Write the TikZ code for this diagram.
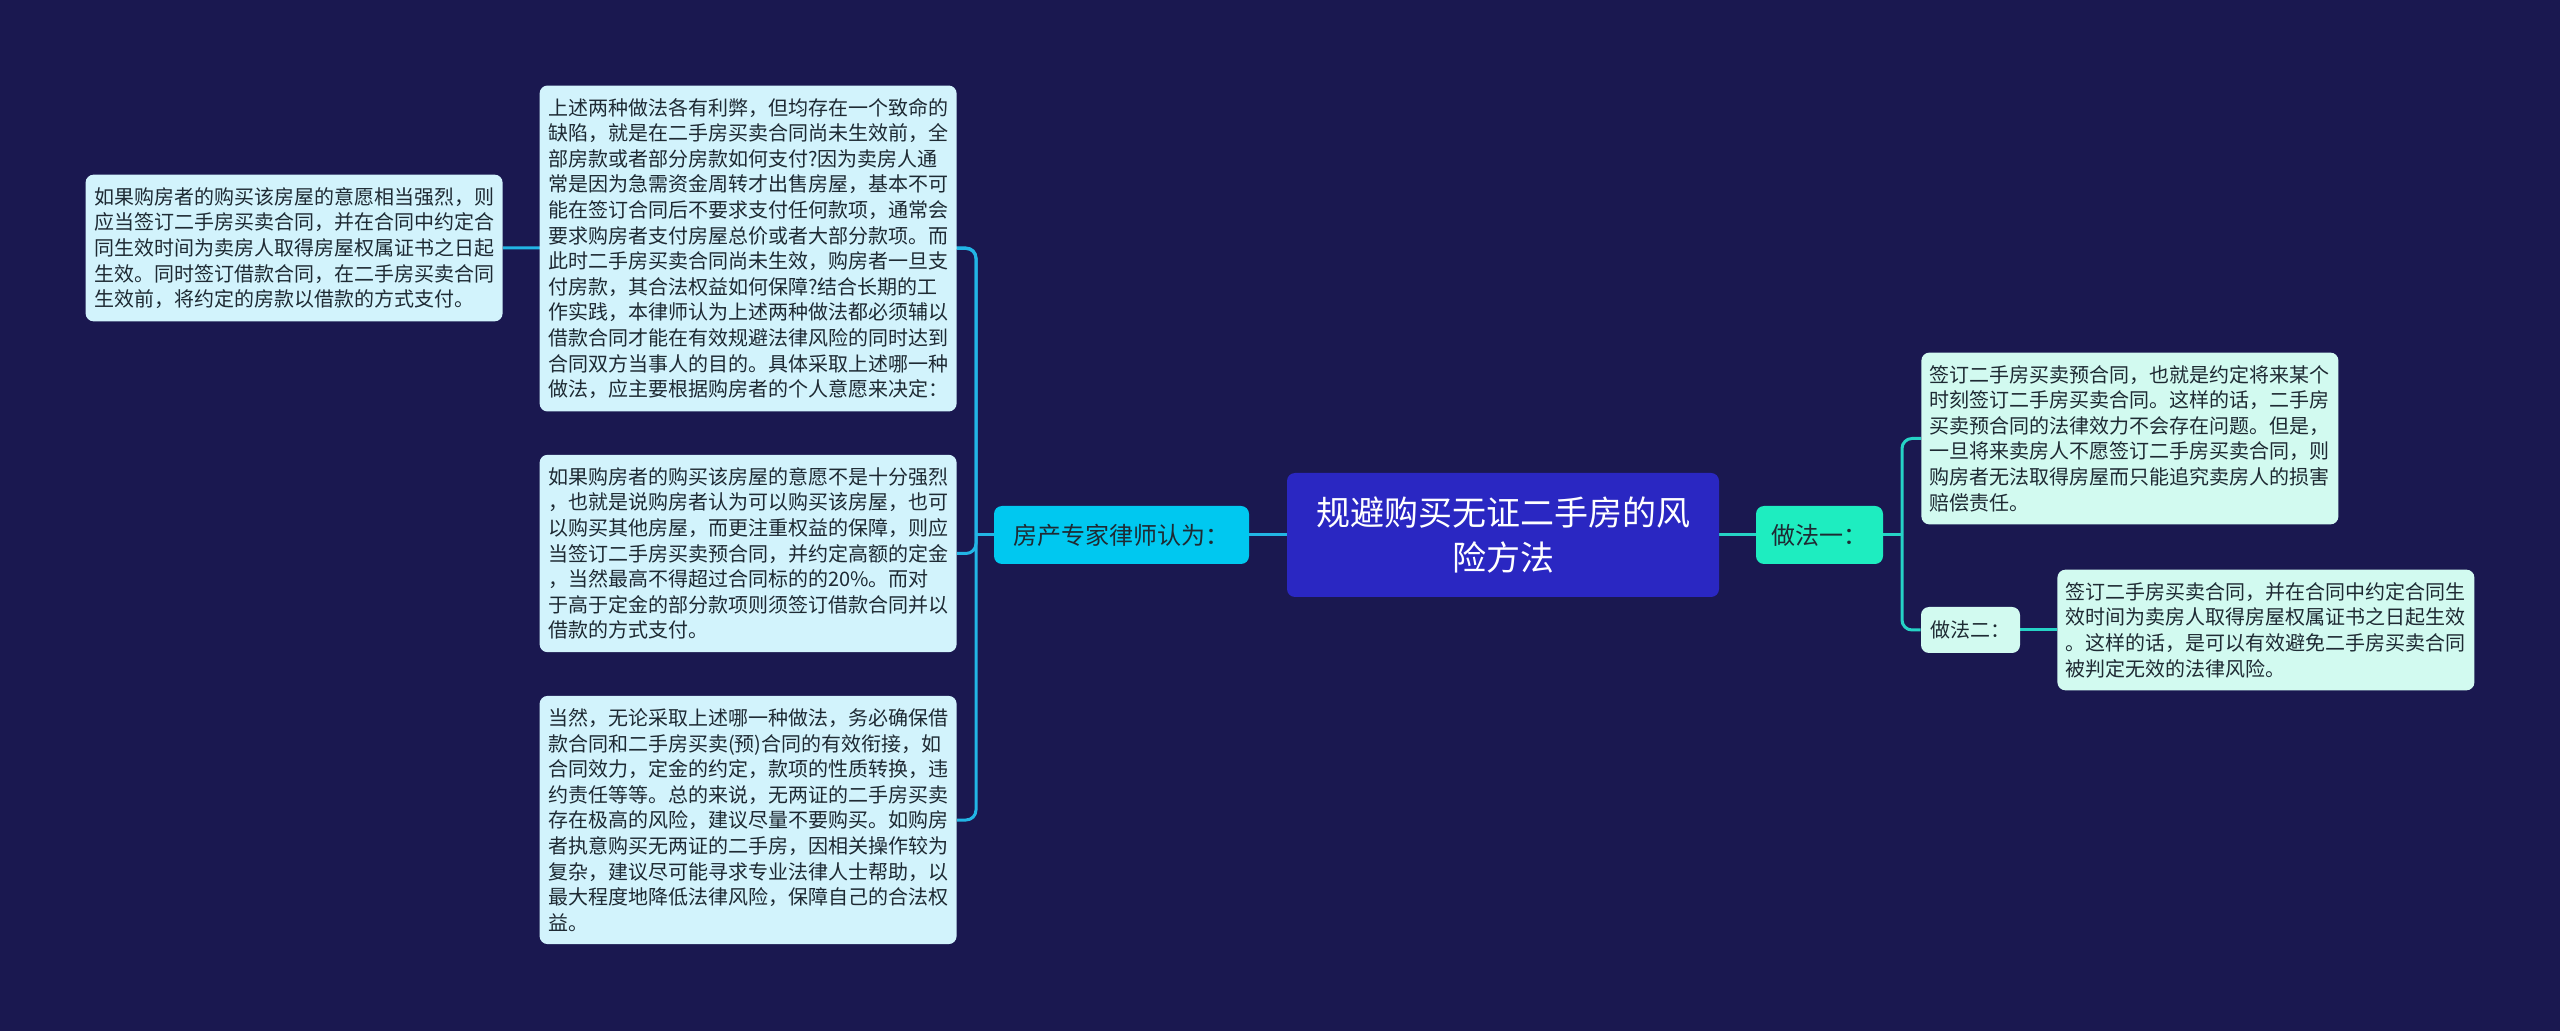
\documentclass[tikz,border=0pt]{standalone}
\usepackage{fontspec}
\setmainfont{Noto Sans CJK SC}
\usepackage{xcolor}
\usetikzlibrary{backgrounds}

\definecolor{bgnavy}{HTML}{1A1850}
\definecolor{rootfill}{HTML}{2A27C2}
\definecolor{expertfill}{HTML}{00C8F0}
\definecolor{leftfill}{HTML}{D2F3FC}
\definecolor{leftlink}{HTML}{22B5E5}
\definecolor{wayfill}{HTML}{1EEDC0}
\definecolor{rightfill}{HTML}{D2FAF0}
\definecolor{rightlink}{HTML}{26D3C6}
\definecolor{boxtext}{HTML}{1E2A33}

\tikzset{
  leftbox/.style={fill=leftfill, rounded corners=4pt, text=boxtext, align=left,
    text width=200pt, inner xsep=4.25pt, inner ysep=6.3pt,
    font=\fontsize{10pt}{12.8pt}\selectfont},
  rightbox/.style={leftbox, fill=rightfill},
  rootbox/.style={fill=rootfill, rounded corners=4pt, text=white, align=center,
    minimum width=216pt, minimum height=62pt, font=\fontsize{17pt}{22.5pt}\selectfont},
  expertbox/.style={fill=expertfill, rounded corners=4pt, text=boxtext,
    minimum width=127.5pt, minimum height=29pt, font=\fontsize{12pt}{14pt}\selectfont},
  waybox/.style={expertbox, fill=wayfill, minimum width=63.5pt},
  smallway/.style={fill=rightfill, rounded corners=4pt, text=boxtext,
    minimum width=49.5pt, minimum height=23pt, font=\fontsize{10pt}{12.8pt}\selectfont},
  leftline/.style={draw=leftlink, line width=1.5pt, rounded corners=5pt},
  rightline/.style={leftline, draw=rightlink}
}

\begin{document}
\begin{tikzpicture}[x=0.5pt,y=-0.5pt]
\useasboundingbox (0,0) rectangle (2560,1031);

\node[rootbox] (root) at (1503,535) {规避购买无证二手房的风\\险方法};

\node[expertbox] (expert) at (1121.5,535) {房产专家律师认为：};
\node[leftbox,anchor=east] (strong) at (503,248) {如果购房者的购买该房屋的意愿相当强烈，则\\
应当签订二手房买卖合同，并在合同中约定合\\
同生效时间为卖房人取得房屋权属证书之日起\\
生效。同时签订借款合同，在二手房买卖合同\\
生效前，将约定的房款以借款的方式支付。};
\node[leftbox,anchor=east] (flaw) at (957,248.5) {上述两种做法各有利弊，但均存在一个致命的\\
缺陷，就是在二手房买卖合同尚未生效前，全\\
部房款或者部分房款如何支付?因为卖房人通\\
常是因为急需资金周转才出售房屋，基本不可\\
能在签订合同后不要求支付任何款项，通常会\\
要求购房者支付房屋总价或者大部分款项。而\\
此时二手房买卖合同尚未生效，购房者一旦支\\
付房款，其合法权益如何保障?结合长期的工\\
作实践，本律师认为上述两种做法都必须辅以\\
借款合同才能在有效规避法律风险的同时达到\\
合同双方当事人的目的。具体采取上述哪一种\\
做法，应主要根据购房者的个人意愿来决定：};
\node[leftbox,anchor=east] (weak) at (957,553.5) {如果购房者的购买该房屋的意愿不是十分强烈\\
，也就是说购房者认为可以购买该房屋，也可\\
以购买其他房屋，而更注重权益的保障，则应\\
当签订二手房买卖预合同，并约定高额的定金\\
，当然最高不得超过合同标的的20\%。而对\\
于高于定金的部分款项则须签订借款合同并以\\
借款的方式支付。};
\node[leftbox,anchor=east] (advice) at (957,820) {当然，无论采取上述哪一种做法，务必确保借\\
款合同和二手房买卖(预)合同的有效衔接，如\\
合同效力，定金的约定，款项的性质转换，违\\
约责任等等。总的来说，无两证的二手房买卖\\
存在极高的风险，建议尽量不要购买。如购房\\
者执意购买无两证的二手房，因相关操作较为\\
复杂，建议尽可能寻求专业法律人士帮助，以\\
最大程度地降低法律风险，保障自己的合法权\\
益。};

\node[waybox] (way1) at (1819.5,535) {做法一：};
\node[rightbox,anchor=west] (precontract) at (1921,438.5) {签订二手房买卖预合同，也就是约定将来某个\\
时刻签订二手房买卖合同。这样的话，二手房\\
买卖预合同的法律效力不会存在问题。但是，\\
一旦将来卖房人不愿签订二手房买卖合同，则\\
购房者无法取得房屋而只能追究卖房人的损害\\
赔偿责任。};
\node[smallway] (way2) at (1970.5,630) {做法二：};
\node[rightbox,anchor=west] (contract) at (2057,630) {签订二手房买卖合同，并在合同中约定合同生\\
效时间为卖房人取得房屋权属证书之日起生效\\
。这样的话，是可以有效避免二手房买卖合同\\
被判定无效的法律风险。};

\coordinate (jleft) at (976,535);
\coordinate (jright) at (1902,535);

\begin{pgfonlayer}{background}
\fill[bgnavy] (0,0) rectangle (2560,1031);
\draw[leftline] (root.west) -- (expert.east);
\draw[leftline] (expert.west) -- (jleft);
\draw[leftline] (jleft) |- (strong.east);
\draw[leftline] (jleft) |- (flaw.east);
\draw[leftline] (jleft) |- (weak.east);
\draw[leftline] (jleft) |- (advice.east);
\draw[rightline] (root.east) -- (way1.west);
\draw[rightline] (way1.east) -- (jright);
\draw[rightline] (jright) |- (precontract.west);
\draw[rightline] (jright) |- (way2.west);
\draw[rightline] (way2.east) -- (contract.west);
\end{pgfonlayer}
\end{tikzpicture}
\end{document}
